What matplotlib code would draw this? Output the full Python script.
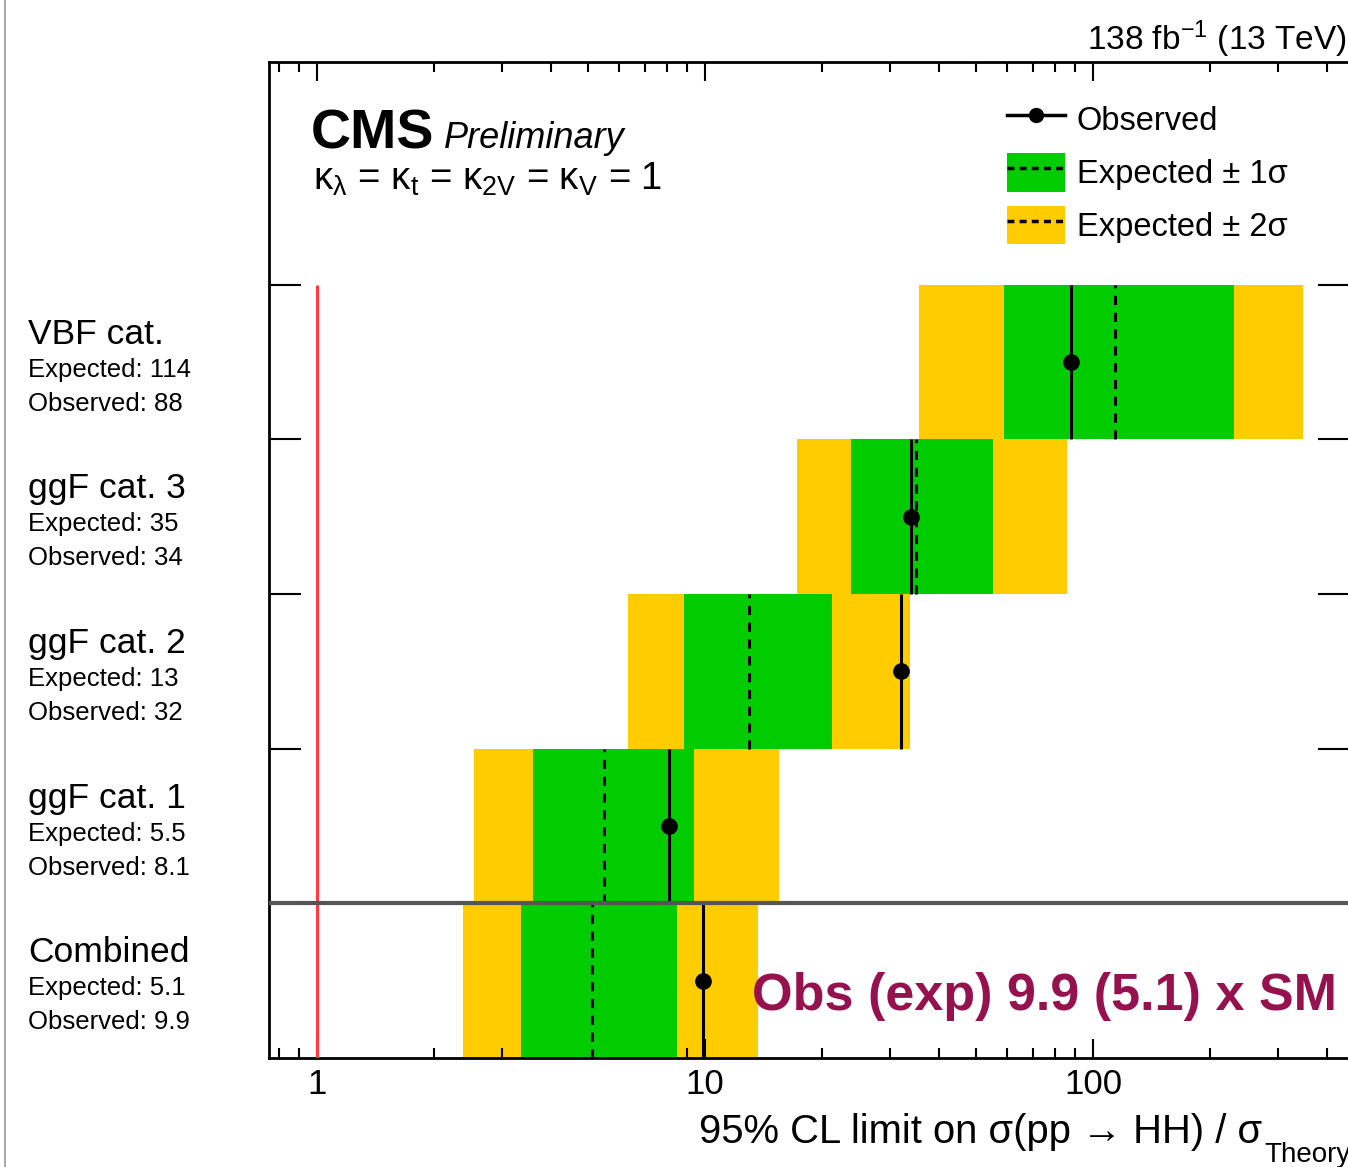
import numpy as np
import matplotlib
matplotlib.use('Agg')
import matplotlib.pyplot as plt
from matplotlib.lines import Line2D
from matplotlib.patches import Patch
from matplotlib.ticker import FixedLocator, LogLocator, NullFormatter, FuncFormatter
from matplotlib.transforms import blended_transform_factory

plt.rcParams['font.family'] = ['Liberation Sans', 'DejaVu Sans']
plt.rcParams['mathtext.fontset'] = 'custom'
plt.rcParams['mathtext.rm'] = 'Liberation Sans'
plt.rcParams['mathtext.it'] = 'Liberation Sans:italic'
plt.rcParams['mathtext.bf'] = 'Liberation Sans:bold'
plt.rcParams['mathtext.default'] = 'rm'

# categories from bottom to top
categories = ['Combined', 'ggF cat. 1', 'ggF cat. 2', 'ggF cat. 3', 'VBF cat.']
observed = [9.9, 8.1, 32, 34, 88]
expected = [5.1, 5.5, 13, 35, 114]
minus2 = [2.38, 2.54, 6.33, 17.3, 35.6]
minus1 = [3.35, 3.61, 8.83, 23.8, 59.0]
plus1 = [8.47, 9.37, 21.3, 55.2, 231]
plus2 = [13.7, 15.5, 33.8, 85.7, 348]

green = '#00cc00'
yellow = '#ffcc00'

W, H = 1348, 1167
fig = plt.figure(figsize=(W / 100, H / 100), dpi=100)


def fx(px):
    return px / W


def fy(py):
    return 1 - py / H


# log axis: 1 at x=317 px, one decade = 388 px
xmin, xmax = 0.75, 460
left_px = 317 + 388 * np.log10(xmin)
right_px = 317 + 388 * np.log10(xmax)
ax = fig.add_axes([fx(left_px), fy(1058), (right_px - left_px) / W, (1058 - 62) / H])

y = np.arange(len(categories))
lo2, hi2 = np.array(minus2), np.array(plus2)
lo1, hi1 = np.array(minus1), np.array(plus1)

ax.barh(y, hi2 - lo2, left=lo2, height=1, align='edge', color=yellow, lw=0, zorder=1)
ax.barh(y, hi1 - lo1, left=lo1, height=1, align='edge', color=green, lw=0, zorder=2)
ax.vlines(expected, y, y + 1, colors='k', linestyles=(0, (3, 2.5)), lw=2.2, zorder=3)
ax.vlines(observed, y, y + 1, colors='k', lw=2.2, zorder=4)
ax.plot(observed, y + 0.5, 'o', color='k', ms=11, zorder=5)
ax.vlines(1, 0, len(categories), colors='#ff3b3b', lw=2.2, zorder=6)
ax.axhline(1, color='#555555', lw=3, zorder=7)

ax.set_xscale('log')
ax.set_xlim(xmin, xmax)
ax.set_ylim(0, 6.44)
ax.xaxis.set_major_locator(FixedLocator([1, 10, 100]))
ax.xaxis.set_minor_locator(LogLocator(base=10, subs=np.arange(2, 10)))
ax.xaxis.set_major_formatter(FuncFormatter(lambda v, p: f'{v:g}'))
ax.xaxis.set_minor_formatter(NullFormatter())
ax.tick_params(axis='x', which='both', direction='in', top=True, bottom=True,
               width=1.5, labelsize=25, pad=7)
ax.tick_params(axis='x', which='major', length=14)
ax.tick_params(axis='x', which='minor', length=7)
ax.set_yticks(np.arange(1, len(categories) + 1))
ax.tick_params(axis='y', direction='in', left=True, right=True, length=23,
               width=1.5, labelleft=False)
for s in ax.spines.values():
    s.set_linewidth(2)

# row labels on the left
trans = blended_transform_factory(fig.transFigure, ax.transData)
for i, name in enumerate(categories):
    c = i + 0.5
    ax.text(fx(28), c + 0.18, name, transform=trans, fontsize=25.5, va='center', ha='left')
    ax.text(fx(28), c - 0.05, f'Expected: {expected[i]:g}', transform=trans,
            fontsize=18.5, va='center', ha='left')
    ax.text(fx(28), c - 0.27, f'Observed: {observed[i]:g}', transform=trans,
            fontsize=18.5, va='center', ha='left')

# headers
fig.text(fx(1347), fy(50), r'138 fb$^{-1}$ (13 TeV)', ha='right', va='baseline', fontsize=24)
fig.text(fx(311), fy(148), 'CMS', fontweight='bold', fontsize=40, va='baseline')
fig.text(fx(444), fy(148), 'Preliminary', style='italic', fontsize=26, va='baseline')
fig.text(fx(313), fy(190), r'κ$_{\lambda}$ = κ$_{t}$ = κ$_{2V}$ = κ$_{V}$ = 1',
         fontsize=27.5, va='baseline')

# legend
handles = [Line2D([], [], color='k', lw=2.5, marker='o', ms=10),
           (Patch(facecolor=green, lw=0), Line2D([], [], color='k', lw=2.5, ls=(0, (2, 1.5)))),
           (Patch(facecolor=yellow, lw=0), Line2D([], [], color='k', lw=2.5, ls=(0, (2, 1.5))))]
labels = ['Observed', 'Expected ± 1σ', 'Expected ± 2σ']
ax.legend(handles, labels, loc='upper left', bbox_to_anchor=(fx(1007), fy(100)),
          bbox_transform=fig.transFigure, frameon=False, fontsize=23.5,
          handlelength=1.78, handleheight=1.45, labelspacing=0.43,
          handletextpad=0.35, borderpad=0, borderaxespad=0)

fig.text(fx(752), fy(1010), f'Obs (exp) {observed[0]:g} ({expected[0]:g}) x SM',
         color='#96124f', fontsize=37.5, fontweight='bold', va='baseline')

# x axis title, subscript placed by hand so it sits low like the original
xt = fig.text(fx(699), fy(1143), r'95% CL limit on σ(pp → HH) / σ',
              fontsize=28.8, va='baseline')
fig.canvas.draw()
bb = xt.get_window_extent()
fig.text(bb.x1 / W + fx(2), fy(1162), 'Theory', fontsize=20, va='baseline')

fig.add_artist(Line2D([fx(5), fx(5)], [0, 1], transform=fig.transFigure,
                      color='#aaaaaa', lw=1.5))

fig.savefig('out.png', dpi=100)
